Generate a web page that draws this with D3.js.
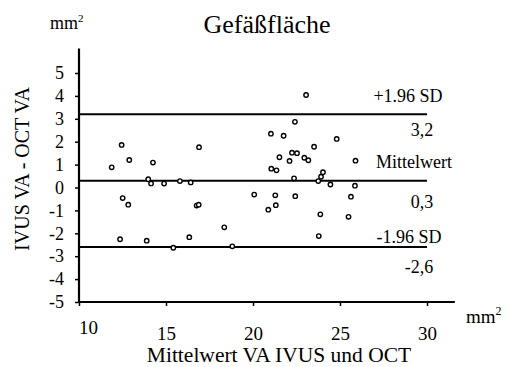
<!DOCTYPE html>
<html>
<head>
<meta charset="utf-8">
<script src="https://cdn.jsdelivr.net/npm/d3@7"></script>
<style>
  html, body { margin: 0; padding: 0; background: #fff; }
  svg { display: block; font-family: 'Liberation Serif', 'Times New Roman', Times, 'DejaVu Serif', serif; }
  svg text { font-family: 'Liberation Serif', 'Times New Roman', Times, 'DejaVu Serif', serif !important; fill: #000; }
</style>
</head>
<body>
<svg id="chart" width="509" height="367"></svg>
<script>
// Mean of VA (IVUS & OCT), mm²
const meanVA = [12.45, 12.89, 11.88, 14.25, 13.98, 14.14, 14.89, 15.80, 16.42, 16.90,
  12.51, 12.83, 16.76, 16.88, 12.36, 13.89, 16.34, 15.42, 18.35, 18.81,
  20.07, 23.05, 22.41, 21.03, 21.76, 24.81, 23.51, 22.24, 22.53, 21.52,
  22.10, 22.95, 23.18, 25.89, 21.05, 21.35, 24.02, 23.91, 23.75, 22.36,
  24.45, 25.86, 21.28, 22.43, 25.63, 21.31, 20.88, 23.87, 25.49, 23.78];
// Difference IVUS VA - OCT VA, mm²
const diffVA = [1.86, 1.20, 0.88, 1.09, 0.36, 0.18, 0.17, 0.28, 0.22, 1.76,
  -0.46, -0.75, -0.79, -0.75, -2.26, -2.32, -2.17, -2.63, -1.74, -2.57,
  -0.31, 4.04, 2.87, 2.35, 2.26, 2.12, 1.78, 1.52, 1.50, 1.32,
  1.16, 1.30, 1.19, 1.17, 0.82, 0.75, 0.67, 0.47, 0.28, 0.40,
  0.13, 0.08, -0.34, -0.38, -0.40, -0.77, -0.97, -1.17, -1.28, -2.12];

const limitValues = [3.2, 0.3, -2.6];
const limitNames = ["+1.96 SD", "Mittelwert", "-1.96 SD"];
const limitValueLabels = ["3,2", "0,3", "-2,6"];

const xTicks = [10, 15, 20, 25, 30];
const yTicks = [5, 4, 3, 2, 1, 0, -1, -2, -3, -4, -5];

const titleText = "Gefäßfläche";
const xLabel = "Mittelwert VA IVUS und OCT";
const yLabel = "IVUS VA - OCT VA";

const FONT = "'Liberation Serif', 'Times New Roman', Times, 'DejaVu Serif', serif";
const svg = d3.select("#chart");

const x = d3.scaleLinear().domain([10, 30]).range([79, 427]);
const y = d3.scaleLinear().domain([-5, 5]).range([302, 73]);

// Limit lines
svg.append("g").selectAll("line").data(limitValues).join("line")
  .attr("x1", x(10)).attr("x2", x(30))
  .attr("y1", d => y(d)).attr("y2", d => y(d))
  .attr("stroke", "#000").attr("stroke-width", 2);

// Y axis
const yAxis = svg.append("g").attr("transform", `translate(${x(10)},0)`)
  .call(d3.axisLeft(y).tickValues(yTicks).tickSize(4).tickPadding(11));
yAxis.attr("font-family", FONT);
yAxis.select(".domain").remove();
yAxis.selectAll(".tick line").attr("stroke", "#000").attr("stroke-width", 1.5);
yAxis.selectAll(".tick text").attr("font-size", 18).style("font-family", FONT)
  .text(d => d < 0 ? "-" + Math.abs(d) : d);
svg.append("line").attr("x1", x(10)).attr("x2", x(10))
  .attr("y1", y(6.07)).attr("y2", y(-5) + 1)
  .attr("stroke", "#000").attr("stroke-width", 2.2);

// X axis
const xAxis = svg.append("g").attr("transform", `translate(0,${y(-5)})`)
  .call(d3.axisBottom(x).tickValues(xTicks).tickSize(4).tickPadding(21));
xAxis.attr("font-family", FONT);
xAxis.select(".domain").remove();
xAxis.selectAll(".tick line").attr("stroke", "#000").attr("stroke-width", 1.5);
xAxis.selectAll(".tick text").attr("font-size", 19).style("font-family", FONT);
xAxis.selectAll(".tick").filter(d => d === 10).select("text")
  .attr("transform", "translate(9,-6)");
svg.append("line").attr("x1", x(10) - 1).attr("x2", x(31.6))
  .attr("y1", y(-5)).attr("y2", y(-5))
  .attr("stroke", "#000").attr("stroke-width", 2.2);

// Points
svg.append("g").selectAll("circle").data(meanVA.map((m, i) => [m, diffVA[i]])).join("circle")
  .attr("cx", d => x(d[0])).attr("cy", d => y(d[1])).attr("r", 2.2)
  .attr("fill", "#fff").attr("stroke", "#000").attr("stroke-width", 1.4);

// Limit labels
const nameOffsets = [-12, -13, -4];
const nameX = [408, 414, 409];
const valOffsets = [22, 27, 26];
const valX = [422, 422, 419];
limitValues.forEach((v, i) => {
  svg.append("text").attr("x", nameX[i]).attr("y", y(v) + nameOffsets[i])
    .attr("text-anchor", "middle").attr("font-size", 18).style("font-family", FONT).text(limitNames[i]);
  svg.append("text").attr("x", valX[i]).attr("y", y(v) + valOffsets[i])
    .attr("text-anchor", "middle").attr("font-size", 18).style("font-family", FONT).text(limitValueLabels[i]);
});

// Title
svg.append("text").attr("x", 267).attr("y", 33).attr("text-anchor", "middle")
  .attr("font-size", 26).style("font-family", FONT).text(titleText);

// Unit labels
const unitTop = svg.append("text").attr("x", 50).attr("y", 29).attr("font-size", 18).style("font-family", FONT);
unitTop.append("tspan").text("mm");
unitTop.append("tspan").attr("font-size", 11).attr("dy", -7).text("2");

const unitRight = svg.append("text").attr("x", 466).attr("y", 323).attr("font-size", 19).style("font-family", FONT);
unitRight.append("tspan").text("mm");
unitRight.append("tspan").attr("font-size", 12).attr("dy", -8).text("2");

// Axis titles
svg.append("text").attr("x", 279).attr("y", 362).attr("text-anchor", "middle")
  .attr("font-size", 21.5).style("font-family", FONT).text(xLabel);
svg.append("text").attr("transform", "translate(29,169) rotate(-90)")
  .attr("text-anchor", "middle").attr("font-size", 20).style("font-family", FONT).text(yLabel);
</script>
</body>
</html>
